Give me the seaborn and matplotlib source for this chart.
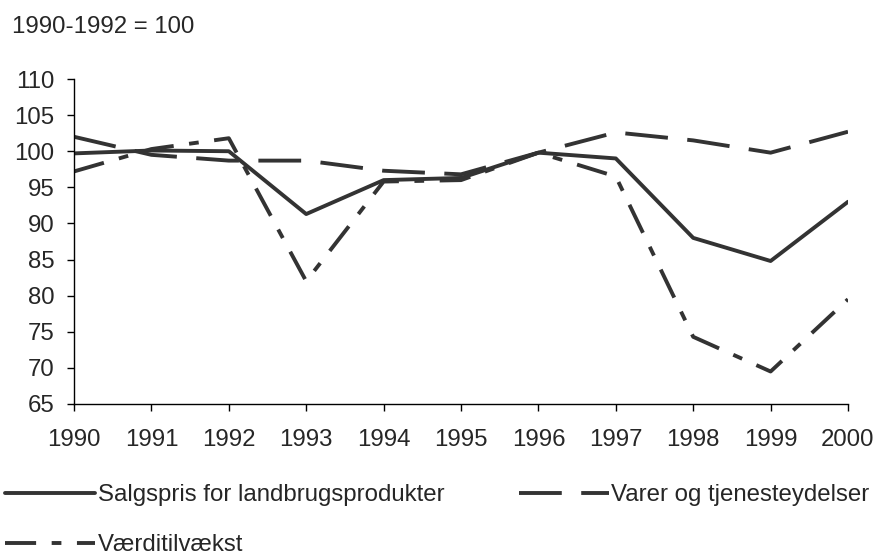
import pandas as pd
import matplotlib.pyplot as plt
import seaborn as sns

# ── Data (index, 1990-1992 = 100) ─────────────────────────────
years = [1990, 1991, 1992, 1993, 1994, 1995, 1996, 1997, 1998, 1999, 2000]
salgspris = [99.7, 100.1, 100.0, 91.3, 96.0, 96.3, 99.8, 99.0, 88.0, 84.8, 93.0]
varer = [102.0, 99.5, 98.7, 98.7, 97.3, 96.8, 99.8, 102.6, 101.5, 99.8, 102.7]
vaerditilvaekst = [97.2, 100.3, 101.8, 82.0, 95.8, 96.0, 99.8, 96.5, 74.3, 69.5, 79.5]

names = ["Salgspris for landbrugsprodukter", "Varer og tjenesteydelser", "Værditilvækst"]

df = pd.concat([
    pd.DataFrame({"År": years, "Indeks": salgspris, "Serie": names[0]}),
    pd.DataFrame({"År": years, "Indeks": varer, "Serie": names[1]}),
    pd.DataFrame({"År": years, "Indeks": vaerditilvaekst, "Serie": names[2]}),
])

# ── Style ─────────────────────────────────────────────────────
sns.set_style("ticks")
plt.rcParams['font.family'] = ['Liberation Sans', 'DejaVu Sans']
fs = 17.3
plt.rcParams['font.size'] = fs

line_col = "#333333"
dashes = {names[0]: "", names[1]: (11, 5), names[2]: (8, 4, 2.5, 4)}
# legend fills column-wise, so this order gives rows: Salgspris | Varer, then Værditilvækst
legend_order = [names[0], names[2], names[1]]

fig = plt.figure(figsize=(8.79, 5.58), dpi=100)
ax = fig.add_axes([74 / 879, 1 - 404 / 558, (848 - 74) / 879, (404 - 79) / 558])

sns.lineplot(data=df, x="År", y="Indeks", hue="Serie", style="Serie",
             hue_order=legend_order, style_order=legend_order,
             palette={n: line_col for n in names}, dashes=dashes,
             estimator=None, linewidth=2.8, ax=ax)

ax.set_xlim(1990, 2000)
ax.set_ylim(65, 110)
ax.set_xticks(years)
ax.set_yticks(range(65, 111, 5))
ax.set_xlabel("")
ax.set_ylabel("")
ax.tick_params(axis="both", direction="out", length=5, width=1, color="black",
               labelsize=fs)
ax.tick_params(axis="y", pad=9)
ax.tick_params(axis="x", pad=13)
sns.despine(ax=ax)
for side in ["left", "bottom"]:
    ax.spines[side].set_color("black")
    ax.spines[side].set_linewidth(1)

fig.text(12 / 879, 1 - 33 / 558, "1990-1992 = 100", fontsize=fs, va="baseline")

sns.move_legend(ax, "upper left", bbox_to_anchor=(5 / 879, 1 - 484 / 558),
                bbox_transform=fig.transFigure, ncol=2, frameon=False, title=None,
                fontsize=fs, handlelength=3.75, handletextpad=0.1, columnspacing=3.1,
                labelspacing=1.18, borderpad=0, borderaxespad=0)

fig.savefig("out.png", dpi=100)
